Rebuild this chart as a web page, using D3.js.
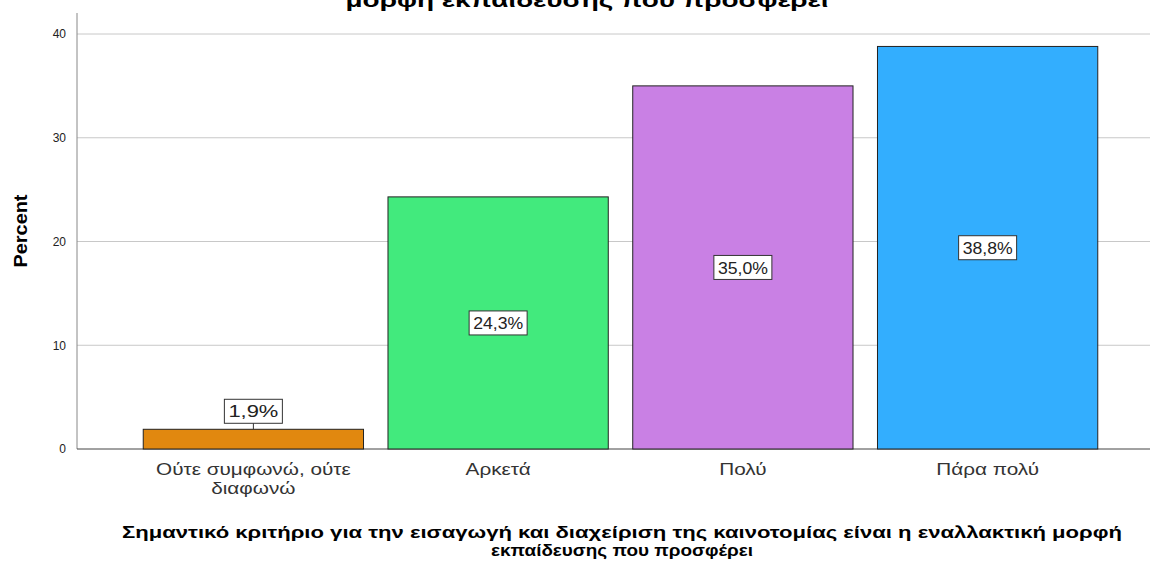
<!DOCTYPE html>
<html>
<head>
<meta charset="utf-8">
<script src="https://cdn.jsdelivr.net/npm/d3@7"></script>
<style>
  body { margin: 0; background: #fff; font-family: "Liberation Sans", Arial, sans-serif; }
</style>
</head>
<body>
<div class="graph"></div>
<script>
const width = 1150;
const height = 561;

const categories = ["Ούτε συμφωνώ, ούτε διαφωνώ", "Αρκετά", "Πολύ", "Πάρα πολύ"];
const categoryLines = [["Ούτε συμφωνώ, ούτε", "διαφωνώ"], ["Αρκετά"], ["Πολύ"], ["Πάρα πολύ"]];
const percents = [1.9, 24.3, 35.0, 38.8];
const barColors = ["#E1880F", "#42EA7D", "#C980E4", "#33AEFE"];
const yTicks = [0, 10, 20, 30, 40];

const svg = d3.select('.graph').append('svg')
  .attr('width', width)
  .attr('height', height);

/* scales */
let x = d3.scaleBand()
  .domain(categories)
  .range([131, 1110])
  .paddingInner(0.1)
  .paddingOuter(0.05);

let y = d3.scaleLinear()
  .domain([0, 40])
  .range([449, 34]);

// title, cut off at the top edge like the original
svg.append('text')
  .attr('x', 587)
  .attr('y', 7)
  .attr('text-anchor', 'middle')
  .style('font-weight', 'bold')
  .style('font-size', '20px')
  .attr('textLength', 483)
  .attr('lengthAdjust', 'spacingAndGlyphs')
  .text('μορφή εκπαίδευσης που προσφέρει');

// grid lines
svg.append('g')
  .selectAll('line')
  .data(yTicks.filter(d => d > 0))
  .enter().append('line')
  .attr('x1', 77)
  .attr('x2', width)
  .attr('y1', d => y(d))
  .attr('y2', d => y(d))
  .attr('stroke', '#c8c8c8')
  .attr('stroke-width', 1);

// y axis
let yAxis = d3.axisLeft(y).tickValues(yTicks).tickSize(0).tickPadding(11);
let yg = svg.append('g')
  .attr('transform', 'translate(77,0)')
  .call(yAxis);
yg.select('.domain').remove();
yg.selectAll('text')
  .style('font-family', '"Liberation Sans", Arial, sans-serif')
  .style('font-size', '12px')
  .attr('fill', '#222');

svg.append('line')
  .attr('x1', 77).attr('x2', 77)
  .attr('y1', 13).attr('y2', 449)
  .attr('stroke', '#888');
svg.append('line')
  .attr('x1', 77).attr('x2', width)
  .attr('y1', y(0)).attr('y2', y(0))
  .attr('stroke', '#444');

// bars
svg.append('g')
  .selectAll('rect')
  .data(percents)
  .enter().append('rect')
  .attr('x', (d, i) => x(categories[i]))
  .attr('y', d => y(d))
  .attr('width', x.bandwidth())
  .attr('height', d => y(0) - y(d))
  .attr('fill', (d, i) => barColors[i])
  .attr('stroke', '#222')
  .attr('stroke-width', 1);

// value labels
let labels = svg.append('g')
  .selectAll('g')
  .data(percents)
  .enter().append('g')
  .attr('transform', (d, i) => {
    let cx = x(categories[i]) + x.bandwidth() / 2;
    let cy = d < 5 ? y(d) - 18 : (y(d) + y(0)) / 2;
    return 'translate(' + cx + ',' + cy + ')';
  });

labels.filter(d => d < 5).append('line')
  .attr('x1', 0).attr('x2', 0)
  .attr('y1', 11).attr('y2', 18)
  .attr('stroke', '#333');

labels.append('rect')
  .attr('x', -29)
  .attr('y', -12)
  .attr('width', 58)
  .attr('height', 24)
  .attr('fill', '#fff')
  .attr('stroke', '#333')
  .attr('stroke-width', 1);

labels.append('text')
  .attr('text-anchor', 'middle')
  .attr('dy', '0.36em')
  .style('font-size', '17px')
  .attr('fill', '#222')
  .attr('textLength', 50)
  .attr('lengthAdjust', 'spacingAndGlyphs')
  .text(d => d.toFixed(1).replace('.', ',') + '%');

// category labels, one text per line
let catGroups = svg.append('g')
  .selectAll('g')
  .data(categoryLines)
  .enter().append('g')
  .attr('transform', (d, i) => 'translate(' + (x(categories[i]) + x.bandwidth() / 2) + ',475) scale(1.22,1)');

catGroups.selectAll('text')
  .data(d => d)
  .enter().append('text')
  .attr('text-anchor', 'middle')
  .attr('y', (d, i) => i * 19)
  .style('font-size', '17px')
  .attr('fill', '#333')
  .text(d => d);

// axis titles
svg.append('text')
  .attr('transform', 'translate(27,231) rotate(-90)')
  .attr('text-anchor', 'middle')
  .style('font-weight', 'bold')
  .style('font-size', '18px')
  .attr('textLength', 73)
  .attr('lengthAdjust', 'spacingAndGlyphs')
  .text('Percent');

let xTitle = ['Σημαντικό κριτήριο για την εισαγωγή και διαχείριση της καινοτομίας είναι η εναλλακτική μορφή',
  'εκπαίδευσης που προσφέρει'];
svg.append('text')
  .attr('x', 622)
  .attr('y', 538)
  .attr('text-anchor', 'middle')
  .style('font-weight', 'bold')
  .style('font-size', '17px')
  .attr('textLength', 1000)
  .attr('lengthAdjust', 'spacingAndGlyphs')
  .text(xTitle[0]);
svg.append('text')
  .attr('x', 622)
  .attr('y', 556)
  .attr('text-anchor', 'middle')
  .style('font-weight', 'bold')
  .style('font-size', '17px')
  .attr('textLength', 262)
  .attr('lengthAdjust', 'spacingAndGlyphs')
  .text(xTitle[1]);
</script>
</body>
</html>
